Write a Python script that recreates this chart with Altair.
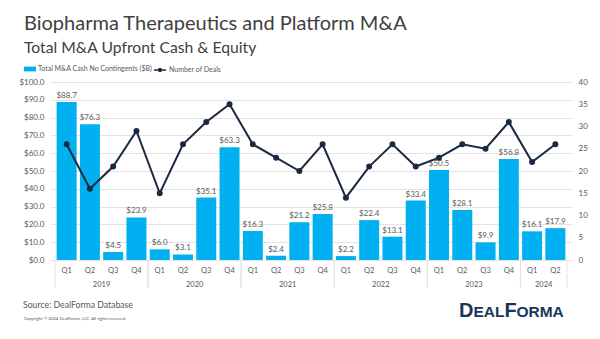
import altair as alt
import pandas as pd

# ---------------- data ----------------
years = ["2019"] * 4 + ["2020"] * 4 + ["2021"] * 4 + ["2022"] * 4 + ["2023"] * 4 + ["2024"] * 2
quarters = ["Q1", "Q2", "Q3", "Q4"] * 5 + ["Q1", "Q2"]
cash_bn = [88.7, 76.3, 4.5, 23.9, 6.0, 3.1, 35.1, 63.3, 16.3, 2.4, 21.2, 25.8,
           2.2, 22.4, 13.1, 33.4, 50.5, 28.1, 9.9, 56.8, 16.1, 17.9]
deals = [26, 16, 21, 29, 15, 26, 31, 35, 26, 23, 20, 26,
         14, 21, 26, 21, 23, 26, 25, 31, 22, 26]

title_text = "Biopharma Therapeutics and Platform M&A"
subtitle_text = "Total M&A Upfront Cash & Equity"
bar_series = "Total M&A Cash No Contingents ($B)"
line_series = "Number of Deals"
source_text = "Source: DealForma Database"
copyright_text = "Copyright © 2024 DealForma, LLC. All rights reserved."
logo_parts = ["D", "EAL", "F", "ORMA"]

df = pd.DataFrame({"year": years, "quarter": quarters, "value": cash_bn, "deals": deals})

BLUE = "#00B0F0"
NAVY = "#1B2A41"
GRAY = "#595959"
GRID = "#E3E3E3"
FONT = "Lato"

W, H = 522, 178
n = len(quarters)
xscale = alt.Scale(domain=[0, n], nice=False, zero=False)
yleft = alt.Scale(domain=[0, 100], nice=False)
yright = alt.Scale(domain=[0, 40], nice=False)

base = alt.Chart(df).transform_window(rn="row_number()").transform_calculate(pos="datum.rn - 0.5")

bars = base.transform_calculate(series=f"'{bar_series}'").mark_bar(size=20).encode(
    x=alt.X("pos:Q", scale=xscale, axis=None),
    y=alt.Y("value:Q", scale=yleft, title=None,
            axis=alt.Axis(orient="left", format="$.1f", tickCount=10, grid=True, gridColor=GRID,
                          domain=False, ticks=False, labelPadding=6, labelFontSize=8,
                          labelColor=GRAY, labelFont=FONT)),
    color=alt.Color("series:N", scale=alt.Scale(range=[BLUE]),
                    legend=alt.Legend(orient="none", legendX=-26, legendY=-19, title=None,
                                      symbolType="M-1,-0.4H1V0.4H-1Z", symbolSize=144,
                                      symbolStrokeWidth=0, labelFontSize=7, labelOffset=2,
                                      labelColor=GRAY, labelFont=FONT, padding=0)),
)

labels = base.mark_text(baseline="bottom", dy=-2, fontSize=8, color=GRAY, font=FONT).encode(
    x=alt.X("pos:Q", scale=xscale, axis=None),
    y=alt.Y("value:Q", scale=yleft, axis=None),
    text=alt.Text("value:Q", format="$.1f"),
)

line = base.transform_calculate(series2=f"'{line_series}'").mark_line(
    strokeWidth=2, point=alt.OverlayMarkDef(filled=True, size=16, color=NAVY)
).encode(
    x=alt.X("pos:Q", scale=xscale, axis=None),
    y=alt.Y("deals:Q", scale=yright, title=None,
            axis=alt.Axis(orient="right", tickCount=8, grid=False, domain=False, ticks=False,
                          labelPadding=6, labelFontSize=8, labelColor=GRAY, labelFont=FONT)),
    stroke=alt.Stroke("series2:N", scale=alt.Scale(range=[NAVY]),
                      legend=alt.Legend(orient="none", legendX=103, legendY=-19, title=None,
                                        symbolType="M-1,0H1M-0.25,0A0.25,0.25,0,1,1,0.25,0A0.25,0.25,0,1,1,-0.25,0",
                                        symbolSize=144, symbolStrokeWidth=1.5,
                                        symbolFillColor=NAVY, labelFontSize=7, labelOffset=2,
                                        labelColor=GRAY, labelFont=FONT, padding=0)),
)

qlabels = base.mark_text(baseline="middle", fontSize=7.5, color=GRAY, font=FONT).encode(
    x=alt.X("pos:Q", scale=xscale, axis=None),
    y=alt.value(189),
    text="quarter:N",
)

yr = base.transform_aggregate(lo="min(rn)", hi="max(rn)", groupby=["year"]).transform_calculate(
    start="datum.lo - 1", mid="(datum.lo - 1 + datum.hi) / 2"
)
ylabels = yr.mark_text(baseline="middle", fontSize=7.5, color=GRAY, font=FONT).encode(
    x=alt.X("mid:Q", scale=xscale, axis=None),
    y=alt.value(203),
    text="year:N",
)
sep_start = yr.mark_rule(color=GRID, strokeWidth=1).encode(
    x=alt.X("start:Q", scale=xscale, axis=None), y=alt.value(178), y2=alt.value(206)
)
sep_end = yr.mark_rule(color=GRID, strokeWidth=1).encode(
    x=alt.X("hi:Q", scale=xscale, axis=None), y=alt.value(178), y2=alt.value(206)
)


def txt(s, x, y, size, color, weight="normal", font=FONT, baseline="alphabetic"):
    return alt.Chart(pd.DataFrame({"t": [s]})).mark_text(
        align="left", baseline=baseline, fontSize=size, color=color, fontWeight=weight, font=font
    ).encode(x=alt.value(x), y=alt.value(y), text="t:N")


title = txt(title_text, -26, -52, 20, "#404040")
subtitle = txt(subtitle_text, -26, -29, 15.7, "#404040")
source = txt(source_text, -27, 226, 8.7, GRAY)
copyright_ = txt(copyright_text, -26, 238, 4.3, GRAY)

LOGO = "#17365D"
logo = [
    txt(logo_parts[0], 409, 235, 20, LOGO, weight="bold", font="Liberation Sans"),
    txt(logo_parts[1], 423.4, 235, 15.5, LOGO, weight="bold", font="Liberation Sans"),
    txt(logo_parts[2], 454.4, 235, 20, LOGO, weight="bold", font="Liberation Sans"),
    txt(logo_parts[3], 466.4, 235, 15.5, LOGO, weight="bold", font="Liberation Sans"),
]

chart = alt.layer(
    sep_start, sep_end, bars, labels, line, qlabels, ylabels,
    title, subtitle, source, copyright_, *logo,
).resolve_scale(y="independent").properties(
    width=W, height=H,
    autosize=alt.AutoSizeParams(type="none"),
    padding={"left": 50, "top": 82, "right": 28, "bottom": 79},
).configure_view(strokeWidth=0)

chart.save("out.html", embed_options={"renderer": "svg", "actions": False})
